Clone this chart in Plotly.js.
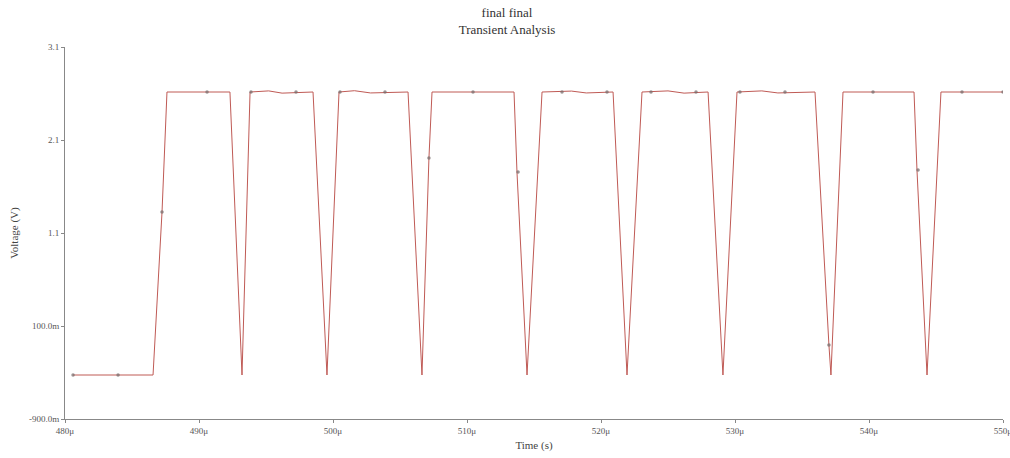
<!DOCTYPE html>
<html>
<head>
<meta charset="utf-8">
<script src="https://cdn.plot.ly/plotly-3.0.1.min.js"></script>
<style>
html,body{margin:0;padding:0;background:#fff;}
#chart{width:1010px;height:458px;}
</style>
</head>
<body>
<div id="chart"></div>
<script>
// Waveform vertices: time in microseconds, voltage in volts
const time_us = [480.6, 483.96, 486.57, 487.24, 487.61, 490.6, 492.31, 493.21, 493.81,
  495.2, 496.2, 498.51, 499.55, 500.45, 501.6, 502.8, 505.6, 506.64, 507.16, 507.39,
  513.51, 513.73, 514.48, 515.6, 517.8, 518.9, 520.9, 521.94, 523.06, 525.0, 526.2,
  527.99, 529.1, 530.15, 532.0, 533.2, 535.97, 537.01, 537.16, 538.06, 543.36,
  543.58, 544.33, 545.37, 550.15];
const voltage = [-0.427, -0.427, -0.427, 1.326, 2.616, 2.616, 2.616, -0.427, 2.616,
  2.628, 2.604, 2.616, -0.427, 2.616, 2.63, 2.606, 2.616, -0.427, 1.906, 2.616,
  2.616, 1.756, -0.427, 2.616, 2.626, 2.606, 2.616, -0.427, 2.616, 2.628, 2.604,
  2.616, -0.427, 2.616, 2.628, 2.606, 2.616, -0.104, -0.427, 2.616, 2.616,
  1.777, -0.427, 2.616, 2.616];

// Sample markers along the trace
const marker_time_us = [480.6, 483.96, 487.24, 490.6, 493.88, 497.24, 500.52, 503.88,
  507.16, 510.45, 513.81, 517.09, 520.45, 523.73, 527.09, 530.37, 533.73, 537.01,
  540.3, 543.66, 546.94, 550.0];
const marker_voltage = [-0.427, -0.427, 1.326, 2.616, 2.616, 2.616, 2.616, 2.616,
  1.906, 2.616, 1.756, 2.616, 2.616, 2.616, 2.616, 2.616, 2.616, -0.104,
  2.616, 1.777, 2.616, 2.616];

const x_tick_vals = [480, 490, 500, 510, 520, 530, 540, 550];
const x_tick_text = ["480\u03bc", "490\u03bc", "500\u03bc", "510\u03bc", "520\u03bc", "530\u03bc", "540\u03bc", "550\u03bc"];
const y_tick_vals = [3.1, 2.1, 1.1, 0.1, -0.9];
const y_tick_text = ["3.1", "2.1", "1.1", "100.0m", "-900.0m"];

const serif = "Liberation Serif, Times New Roman, serif";

const traces = [
  {
    x: time_us, y: voltage, type: "scatter", mode: "lines",
    line: {color: "#bf5a55", width: 1}, hoverinfo: "skip", showlegend: false
  },
  {
    x: marker_time_us, y: marker_voltage, type: "scatter", mode: "markers",
    marker: {color: "rgba(120,110,110,0.75)", size: 3.5, symbol: "circle"},
    hoverinfo: "skip", showlegend: false
  }
];

const layout = {
  width: 1010, height: 458,
  margin: {l: 65, r: 7, t: 47, b: 39},
  paper_bgcolor: "#fff", plot_bgcolor: "#fff",
  showlegend: false,
  title: {
    text: "final final<br>Transient Analysis",
    font: {family: serif, size: 13, color: "#333"},
    x: 0.502, xanchor: "center", yref: "container", y: 1 - 17 / 458, yanchor: "middle"
  },
  xaxis: {
    range: [480, 550], tickvals: x_tick_vals, ticktext: x_tick_text,
    showgrid: false, zeroline: false, showline: true, linecolor: "#888", linewidth: 1,
    ticks: "outside", ticklen: 3, tickcolor: "#888", ticklabeloverflow: "allow",
    tickfont: {family: serif, size: 9, color: "#555"},
    title: {text: "Time (s)", font: {family: serif, size: 11, color: "#444"}, standoff: 6}
  },
  yaxis: {
    range: [-0.9, 3.1], tickvals: y_tick_vals, ticktext: y_tick_text,
    showgrid: false, zeroline: false, showline: true, linecolor: "#888", linewidth: 1,
    ticks: "outside", ticklen: 3, tickcolor: "#888",
    tickfont: {family: serif, size: 9, color: "#555"},
    title: {text: "Voltage (V)", font: {family: serif, size: 11, color: "#444"}, standoff: 8}
  }
};

Plotly.newPlot("chart", traces, layout, {displayModeBar: false, staticPlot: true});
</script>
</body>
</html>
